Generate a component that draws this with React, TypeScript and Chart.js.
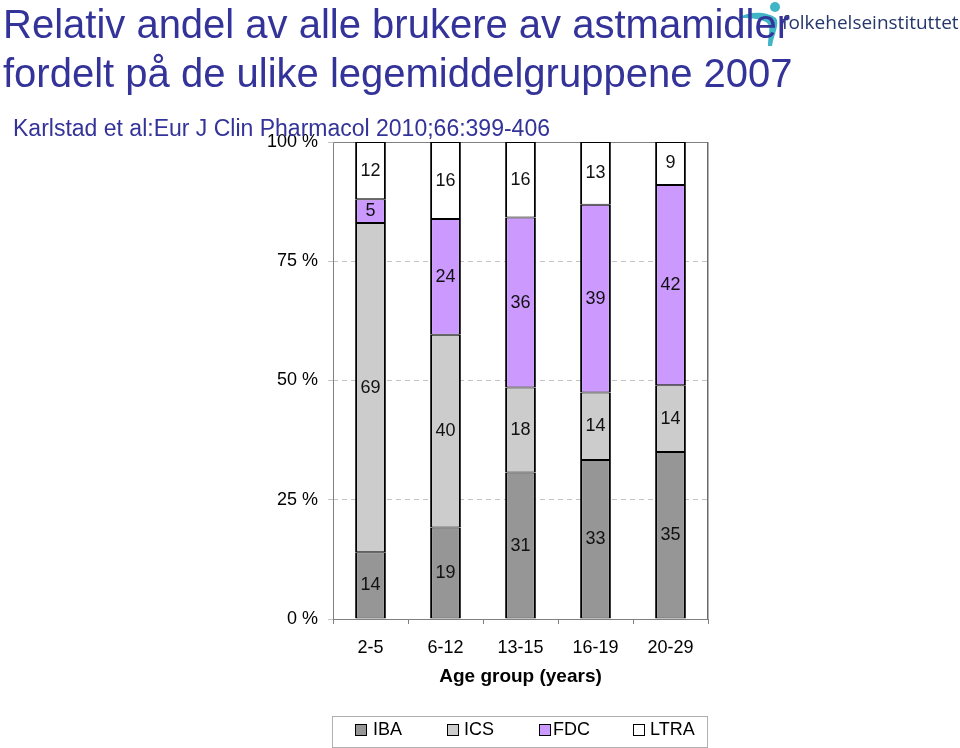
import React, { useEffect, useRef } from 'react';
import { Chart, registerables } from 'chart.js';

Chart.register(...registerables);

const categories = ['2-5', '6-12', '13-15', '16-19', '20-29'];
const IBA = [14, 19, 31, 33, 35];
const ICS = [69, 40, 18, 14, 14];
const FDC = [5, 24, 36, 39, 42];
const LTRA = [12, 16, 16, 13, 9];
const yTickValues = [0, 25, 50, 75, 100];
const seriesNames = ['IBA', 'ICS', 'FDC', 'LTRA'];
const seriesColors = ['#969696', '#cccccc', '#cc99ff', '#ffffff'];

const titleLines = [
  'Relativ andel av alle brukere av astmamidler',
  'fordelt på de ulike legemiddelgruppene 2007',
];
const subtitle = 'Karlstad et al:Eur J Clin Pharmacol 2010;66:399-406';
const logoText = 'folkehelseinstituttet';
const xAxisTitle = 'Age group (years)';

const FONT = "'Liberation Sans', Arial, sans-serif";

const series = [IBA, ICS, FDC, LTRA];
const totals = categories.map((_, j) => series.reduce((s, arr) => s + arr[j], 0));

const labelPlugin = {
  id: 'segLabels',
  afterDatasetsDraw(chart: any) {
    const ctx = chart.ctx;
    ctx.save();
    ctx.font = `18px ${FONT}`;
    ctx.fillStyle = '#111';
    ctx.textAlign = 'center';
    ctx.textBaseline = 'middle';
    chart.data.datasets.forEach((ds: any, i: number) => {
      const meta = chart.getDatasetMeta(i);
      meta.data.forEach((bar: any, j: number) => {
        const p = bar.getProps(['x', 'y', 'base'], true);
        ctx.fillText(String(series[i][j]), p.x, (p.y + p.base) / 2);
      });
    });
    ctx.restore();
  },
};

const framePlugin = {
  id: 'frame',
  beforeDatasetsDraw(chart: any) {
    const { ctx, chartArea } = chart;
    const { left, top, right, bottom } = chartArea;
    ctx.save();
    ctx.strokeStyle = '#808080';
    ctx.lineWidth = 1;
    ctx.beginPath();
    ctx.moveTo(left + 0.5, bottom);
    ctx.lineTo(left + 0.5, top + 0.5);
    ctx.lineTo(right, top + 0.5);
    ctx.stroke();
    ctx.strokeStyle = '#6a6a6a';
    ctx.lineWidth = 1.5;
    ctx.beginPath();
    ctx.moveTo(right - 0.25, top);
    ctx.lineTo(right - 0.25, bottom);
    ctx.stroke();
    ctx.restore();
  },
};

function ChartCanvas() {
  const ref = useRef<HTMLCanvasElement | null>(null);
  useEffect(() => {
    if (!ref.current) return;
    const chart = new Chart(ref.current, {
      type: 'bar',
      data: {
        labels: categories,
        datasets: series.map((arr, i) => ({
          label: seriesNames[i],
          data: arr.map((v, j) => (v / totals[j]) * 100),
          backgroundColor: seriesColors[i],
          borderColor: '#000000',
          borderWidth: { left: 2, right: 2, top: 1, bottom: 1 },
          borderSkipped: false,
          categoryPercentage: 1,
          barPercentage: 0.41,
        })),
      },
      options: {
        responsive: false,
        maintainAspectRatio: false,
        animation: false,
        layout: { padding: { left: 0, top: 142, right: 252, bottom: 0 } },
        plugins: {
          legend: { display: false },
          tooltip: { enabled: false },
          title: { display: false },
        },
        scales: {
          x: {
            stacked: true,
            offset: true,
            grid: {
              offset: true,
              drawOnChartArea: false,
              drawTicks: true,
              tickLength: 5,
              color: '#808080',
            },
            border: { display: true, color: '#808080', width: 1 },
            ticks: {
              font: { family: FONT, size: 18 },
              color: '#000',
              padding: 13,
              maxRotation: 0,
            },
            title: {
              display: true,
              text: xAxisTitle,
              font: { family: FONT, size: 19, weight: 'bold' },
              color: '#000',
              padding: { top: 0, bottom: 60 },
            },
            afterFit: (s: any) => {
              s.height = 129;
            },
          },
          y: {
            stacked: true,
            min: 0,
            max: 100,
            afterBuildTicks: (s: any) => {
              s.ticks = yTickValues.map((v) => ({ value: v }));
            },
            ticks: {
              font: { family: FONT, size: 18 },
              color: '#000',
              padding: 10,
              callback: (v: any) => `${v} %`,
            },
            grid: {
              drawTicks: true,
              tickLength: 5,
              color: (c: any) =>
                c.tick && (c.tick.value === 0 || c.tick.value === 100) ? 'rgba(0,0,0,0)' : '#c4c4c4',
              tickColor: '#c4c4c4',
            },
            border: { display: false, dash: [5, 4] },
            afterFit: (s: any) => {
              s.width = 333;
            },
          },
        },
      },
      plugins: [framePlugin, labelPlugin],
    } as any);
    return () => chart.destroy();
  }, []);
  return (
    <canvas
      ref={ref}
      width={960}
      height={748}
      style={{ position: 'absolute', left: 0, top: 0, width: 960, height: 748 }}
    />
  );
}

export default function App() {
  return (
    <div
      style={{
        position: 'absolute',
        left: 0,
        top: 0,
        width: 960,
        height: 748,
        background: '#ffffff',
        overflow: 'hidden',
        fontFamily: FONT,
      }}
    >
      <ChartCanvas />
      {/* logo */}
      <svg
        width={70}
        height={50}
        style={{ position: 'absolute', left: 730, top: 0 }}
        viewBox="0 0 70 50"
      >
        <circle cx={45} cy={7} r={5} fill="#3fb5c6" />
        <path
          d="M8 18 C 20 10, 38 12, 46 18 C 50 24, 44 34, 42 46 L 38 46 C 38 34, 42 26, 36 22 C 28 18, 18 18, 8 18 Z"
          fill="#3fb5c6"
        />
      </svg>
      <div
        style={{
          position: 'absolute',
          left: 782,
          top: 13,
          fontFamily: "'Open Sans', sans-serif",
          fontSize: 19,
          lineHeight: '19px',
          color: '#26386b',
          whiteSpace: 'nowrap',
          letterSpacing: 0,
        }}
      >
        {logoText}
      </div>
      {titleLines.map((t, i) => (
        <div
          key={i}
          style={{
            position: 'absolute',
            left: 3,
            top: 4 + i * 49,
            fontSize: 40,
            lineHeight: '40px',
            color: '#333399',
            whiteSpace: 'nowrap',
          }}
        >
          {t}
        </div>
      ))}
      <div
        style={{
          position: 'absolute',
          left: 13,
          top: 117,
          fontSize: 23,
          lineHeight: '23px',
          color: '#333399',
          whiteSpace: 'nowrap',
        }}
      >
        {subtitle}
      </div>
      {/* legend */}
      <div
        style={{
          position: 'absolute',
          left: 332,
          top: 716,
          width: 374,
          height: 30,
          border: '1px solid #b0b0b0',
        }}
      />
      {seriesNames.map((n, i) => {
        const boxX = [355, 447, 539, 633][i];
        const textX = [373, 464, 553, 650][i];
        return (
          <React.Fragment key={n}>
            <div
              style={{
                position: 'absolute',
                left: boxX,
                top: 724,
                width: 10,
                height: 10,
                border: '1.5px solid #000',
                background: seriesColors[i],
              }}
            />
            <div
              style={{
                position: 'absolute',
                left: textX,
                top: 720,
                fontSize: 18,
                lineHeight: '18px',
                color: '#000',
                whiteSpace: 'nowrap',
              }}
            >
              {n}
            </div>
          </React.Fragment>
        );
      })}
    </div>
  );
}
